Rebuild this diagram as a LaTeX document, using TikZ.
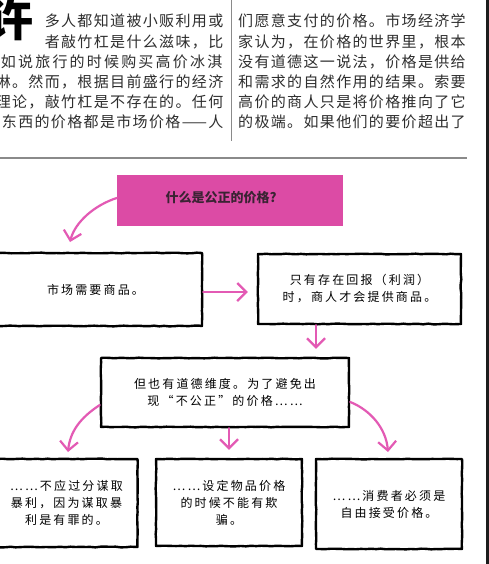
\documentclass[tikz,border=0pt]{standalone}
\usepackage{fontspec}
\usetikzlibrary{arrows.meta,decorations.pathmorphing}
\newfontfamily\cjk{Noto Sans CJK SC}
\newfontfamily\cjkbody[LetterSpace=9]{Noto Sans CJK SC}
\newfontfamily\cjkbox[LetterSpace=18]{Noto Sans CJK SC}
\newcommand\gk{\kern2.2pt}
\definecolor{pinkfill}{HTML}{DC4BA5}
\definecolor{pinkline}{HTML}{E35AB4}
\definecolor{bodytext}{HTML}{2E2E2E}
\definecolor{qtext}{HTML}{3A2333}
\definecolor{rulegray}{HTML}{8A8A8A}
\definecolor{edgedark}{HTML}{1C1C1C}
\begin{document}
\begin{tikzpicture}[x=1pt,y=-1pt,
  bodyline/.style={inner sep=0pt, text=bodytext, font=\cjkbody\fontsize{15}{15}\selectfont},
  card/.style={draw=black, line width=2.4pt, line join=round, rectangle, inner sep=0pt,
    align=center, font=\cjkbox\fontsize{12}{17}\selectfont,
    decorate, decoration={random steps, segment length=5pt, amplitude=0.35pt}},
  arr/.style={draw=pinkline, line width=2.2pt, line cap=round,
    -{Straight Barb[length=9pt, width=18pt, line width=2.2pt]}}
]
\pgfmathsetseed{7}
\useasboundingbox (0,0) rectangle (489,564);
\clip (0,0) rectangle (489,564);
\fill[white] (0,0) rectangle (489,564);

% article text, two columns
\node[anchor=base east, inner sep=0pt, font=\cjk\bfseries\fontsize{46}{46}\selectfont] (xu) at (34,37) {许};
\node[bodyline, anchor=base east] (l1) at (223.5,27) {多人都知道被小贩利用或};
\node[bodyline, anchor=base east] (l2) at (223.5,47.2) {者敲竹杠是什么滋味，比};
\node[bodyline, anchor=base east] (l3) at (222.5,67.4) {如\gk 说\gk 旅\gk 行\gk 的\gk 时\gk 候\gk 购\gk 买\gk 高\gk 价\gk 冰\gk 淇};
\node[bodyline, anchor=base east] (l4) at (223.5,87.6) {淋。然而，根据目前盛行的经济};
\node[bodyline, anchor=base east] (l5) at (223.5,107.8) {理论，敲竹杠是不存在的。任何};
\node[bodyline, anchor=base east] (l6) at (223.5,128) {东西的价格都是市场价格——人};
\node[bodyline, anchor=base west] (r1) at (238,27) {们愿意支付的价格。市场经济学};
\node[bodyline, anchor=base west] (r2) at (238,47.2) {家认为，在价格的世界里，根本};
\node[bodyline, anchor=base west] (r3) at (238,67.4) {没有道德这一说法，价格是供给};
\node[bodyline, anchor=base west] (r4) at (238,87.6) {和需求的自然作用的结果。索要};
\node[bodyline, anchor=base west] (r5) at (238,107.8) {高价的商人只是将价格推向了它};
\node[bodyline, anchor=base west] (r6) at (238,128) {的极端。如果他们的要价超出了};
\draw[rulegray, line width=1pt] (231,0) -- (231,141);
\draw[rulegray, line width=1.3pt] (0,158) -- (467,158);
\fill[edgedark] (486,0) rectangle (489,564);

% question banner
\node[fill=pinkfill, minimum width=226pt, minimum height=51pt, inner sep=0pt] (q) at (230,200.5) {};
\node[inner sep=0pt, text=qtext, font=\cjk\bfseries\fontsize{13}{13}\selectfont] (qt) at (221,198) {什么是公正的价格?};

% boxes
\node[card, minimum width=213pt, minimum height=73pt] (b1) at (95.5,289.5) {市场需要商品。};
\node[card, minimum width=203pt, minimum height=70pt] (b2) at (359.5,289) {只有存在回报（利润）\\时，商人才会提供商品。};
\node[card, minimum width=248pt, minimum height=69pt] (b3) at (225,392.5) {但也有道德维度。为了避免出\\现“不公正”的价格……};
\node[card, minimum width=142pt, minimum height=88pt] (b4) at (66.5,503) {……不应过分谋取\\暴利，因为谋取暴\\利是有罪的。};
\node[card, minimum width=146pt, minimum height=87pt] (b5) at (229,502.5) {……设定物品价格\\的时候不能有欺\\骗。};
\node[card, minimum width=146pt, minimum height=90pt] (b6) at (389,504) {……消费者必须是\\自由接受价格。};

% arrow tips that stop short of their targets
\coordinate (ta) at (70,242);
\coordinate (tb) at (68,452);
\coordinate (tc) at (388,452);

% connectors
\draw[arr] ([yshift=2.5pt]q.west) .. controls +(-22,7) and +(5,-20) .. (ta);
\draw[arr, shorten >=9pt] ([yshift=-2.5pt]b1.east) -- ([yshift=-2.5pt]b1.east -| b2.west);
\draw[arr, shorten >=8pt] ([xshift=-43.5pt]b2.south) -- ([xshift=-43.5pt]b2.south |- b3.north);
\draw[arr] ([yshift=-12.5pt]b3.west) .. controls +(-20,13) and +(2,-20) .. (tb);
\draw[arr, shorten >=8pt] (b3.south -| b5.north) -- (b5.north);
\draw[arr] ([yshift=-9.5pt]b3.east) .. controls +(20,8) and +(-2,-24) .. (tc);
\end{tikzpicture}
\end{document}
